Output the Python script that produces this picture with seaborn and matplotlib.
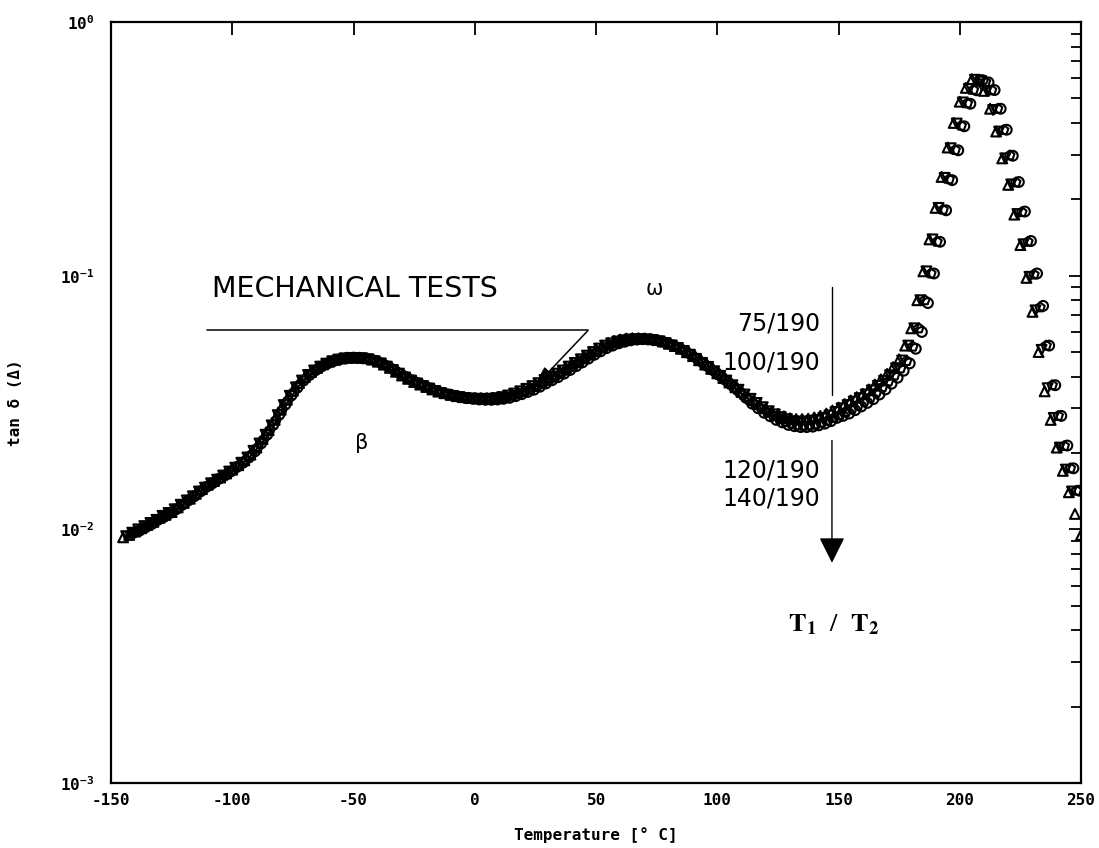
import numpy as np
import pandas as pd
import matplotlib
matplotlib.use("Agg")
import matplotlib.pyplot as plt
from matplotlib.ticker import FixedLocator, LogLocator, NullFormatter, FixedFormatter
import seaborn as sns

# Loss factor tan(delta) vs temperature for four T1/T2 processing conditions
temp_75 = np.arange(-145.0, 250.01, 2.5)
temp_100 = np.arange(-143.75, 247.0, 2.5)
temp_120 = np.arange(-141.875, 249.0, 2.5)
temp_140 = np.arange(-140.625, 250.0, 2.5)

tan_75 = [
    0.0093, 0.0095, 0.0098, 0.0101, 0.0104, 0.0107, 0.0111, 0.0114, 0.0117, 0.0122,
    0.0127, 0.0132, 0.0138, 0.0144, 0.0150, 0.0155, 0.0160, 0.0166, 0.0172, 0.0179,
    0.0187, 0.0197, 0.0210, 0.0227, 0.0246, 0.0270, 0.0296, 0.0324, 0.0352, 0.0377,
    0.0399, 0.0417, 0.0433, 0.0447, 0.0458, 0.0466, 0.0472, 0.0475, 0.0476, 0.0475,
    0.0473, 0.0467, 0.0458, 0.0446, 0.0433, 0.0418, 0.0404, 0.0392, 0.0381, 0.0372,
    0.0364, 0.0356, 0.0349, 0.0344, 0.0339, 0.0335, 0.0332, 0.0330, 0.0329, 0.0329,
    0.0329, 0.0330, 0.0332, 0.0336, 0.0342, 0.0349, 0.0356, 0.0365, 0.0374, 0.0386,
    0.0398, 0.0409, 0.0421, 0.0436, 0.0452, 0.0467, 0.0483, 0.0499, 0.0515, 0.0530,
    0.0543, 0.0553, 0.0560, 0.0565, 0.0567, 0.0567, 0.0566, 0.0563, 0.0558, 0.0550,
    0.0539, 0.0528, 0.0515, 0.0499, 0.0482, 0.0464, 0.0446, 0.0429, 0.0412, 0.0395,
    0.0379, 0.0363, 0.0348, 0.0335, 0.0323, 0.0311, 0.0300, 0.0292, 0.0285, 0.0279,
    0.0274, 0.0272, 0.0272, 0.0273, 0.0276, 0.0280, 0.0286, 0.0294, 0.0302, 0.0312,
    0.0322, 0.0332, 0.0342, 0.0356, 0.0372, 0.0390, 0.0410, 0.0436, 0.0468, 0.0530,
    0.062, 0.080, 0.104, 0.139, 0.185, 0.245, 0.32, 0.40, 0.485, 0.55,
    0.595, 0.590, 0.535, 0.455, 0.37, 0.29, 0.228, 0.174, 0.132, 0.098,
    0.072, 0.050, 0.035, 0.027, 0.021, 0.0170, 0.0140, 0.0115, 0.0095,
]
tan_100 = [
    0.0094, 0.0097, 0.0100, 0.0103, 0.0106, 0.0109, 0.0113, 0.0116, 0.0120, 0.0125,
    0.0130, 0.0135, 0.0141, 0.0146, 0.0152, 0.0157, 0.0163, 0.0169, 0.0175, 0.0183,
    0.0192, 0.0204, 0.0218, 0.0236, 0.0257, 0.0282, 0.0309, 0.0336, 0.0363, 0.0386,
    0.0406, 0.0423, 0.0438, 0.0450, 0.0460, 0.0467, 0.0472, 0.0474, 0.0474, 0.0472,
    0.0468, 0.0460, 0.0451, 0.0438, 0.0425, 0.0411, 0.0397, 0.0386, 0.0376, 0.0367,
    0.0359, 0.0351, 0.0344, 0.0339, 0.0335, 0.0332, 0.0329, 0.0328, 0.0327, 0.0327,
    0.0327, 0.0329, 0.0332, 0.0337, 0.0343, 0.0350, 0.0358, 0.0367, 0.0377, 0.0388,
    0.0399, 0.0411, 0.0423, 0.0438, 0.0453, 0.0468, 0.0484, 0.0500, 0.0516, 0.0530,
    0.0541, 0.0550, 0.0556, 0.0560, 0.0562, 0.0562, 0.0560, 0.0556, 0.0551, 0.0542,
    0.0531, 0.0519, 0.0505, 0.0488, 0.0470, 0.0453, 0.0437, 0.0420, 0.0403, 0.0386,
    0.0370, 0.0355, 0.0340, 0.0327, 0.0315, 0.0303, 0.0292, 0.0284, 0.0277, 0.0272,
    0.0267, 0.0266, 0.0266, 0.0268, 0.0270, 0.0275, 0.0281, 0.0290, 0.0300, 0.0309,
    0.0319, 0.0329, 0.0340, 0.0353, 0.0368, 0.0385, 0.0405, 0.0432, 0.0463, 0.0530,
    0.062, 0.080, 0.104, 0.139, 0.185, 0.243, 0.318, 0.398, 0.482, 0.545,
    0.592, 0.585, 0.535, 0.450, 0.37, 0.29, 0.229, 0.175, 0.133, 0.099,
    0.073, 0.051, 0.036, 0.0275, 0.021, 0.0172, 0.0141,
]
tan_120 = [
    0.0096, 0.0098, 0.0101, 0.0104, 0.0108, 0.0111, 0.0114, 0.0118, 0.0122, 0.0127,
    0.0133, 0.0138, 0.0144, 0.0149, 0.0155, 0.0160, 0.0166, 0.0172, 0.0179, 0.0188,
    0.0198, 0.0211, 0.0227, 0.0247, 0.0270, 0.0296, 0.0323, 0.0349, 0.0375, 0.0396,
    0.0415, 0.0431, 0.0445, 0.0456, 0.0464, 0.0470, 0.0473, 0.0474, 0.0474, 0.0470,
    0.0465, 0.0456, 0.0445, 0.0432, 0.0418, 0.0405, 0.0392, 0.0382, 0.0372, 0.0363,
    0.0355, 0.0348, 0.0342, 0.0338, 0.0334, 0.0331, 0.0328, 0.0326, 0.0325, 0.0325,
    0.0326, 0.0328, 0.0331, 0.0336, 0.0341, 0.0348, 0.0355, 0.0364, 0.0374, 0.0385,
    0.0396, 0.0409, 0.0422, 0.0437, 0.0452, 0.0468, 0.0484, 0.0500, 0.0516, 0.0529,
    0.0540, 0.0548, 0.0555, 0.0559, 0.0561, 0.0561, 0.0559, 0.0553, 0.0546, 0.0536,
    0.0525, 0.0511, 0.0496, 0.0478, 0.0460, 0.0442, 0.0424, 0.0406, 0.0389, 0.0372,
    0.0355, 0.0339, 0.0324, 0.0311, 0.0299, 0.0289, 0.0279, 0.0272, 0.0265, 0.0261,
    0.0257, 0.0256, 0.0257, 0.0259, 0.0263, 0.0268, 0.0275, 0.0282, 0.0290, 0.0299,
    0.0308, 0.0319, 0.0330, 0.0346, 0.0363, 0.0383, 0.0404, 0.0431, 0.0461, 0.0525,
    0.062, 0.080, 0.102, 0.136, 0.182, 0.240, 0.313, 0.390, 0.478, 0.540,
    0.590, 0.580, 0.538, 0.455, 0.375, 0.298, 0.233, 0.178, 0.136, 0.101,
    0.075, 0.053, 0.037, 0.028, 0.0213, 0.0174, 0.0142,
]
tan_140 = [
    0.0097, 0.0099, 0.0102, 0.0105, 0.0109, 0.0112, 0.0116, 0.0120, 0.0125, 0.0130,
    0.0135, 0.0141, 0.0147, 0.0152, 0.0158, 0.0163, 0.0169, 0.0176, 0.0183, 0.0192,
    0.0203, 0.0218, 0.0236, 0.0258, 0.0283, 0.0310, 0.0337, 0.0362, 0.0386, 0.0406,
    0.0424, 0.0439, 0.0451, 0.0461, 0.0468, 0.0472, 0.0474, 0.0474, 0.0473, 0.0468,
    0.0461, 0.0450, 0.0438, 0.0424, 0.0410, 0.0397, 0.0386, 0.0376, 0.0367, 0.0359,
    0.0351, 0.0345, 0.0340, 0.0336, 0.0332, 0.0329, 0.0327, 0.0325, 0.0324, 0.0324,
    0.0325, 0.0327, 0.0330, 0.0335, 0.0341, 0.0348, 0.0355, 0.0365, 0.0376, 0.0387,
    0.0398, 0.0411, 0.0425, 0.0440, 0.0455, 0.0471, 0.0488, 0.0503, 0.0518, 0.0530,
    0.0541, 0.0549, 0.0556, 0.0560, 0.0562, 0.0561, 0.0558, 0.0551, 0.0542, 0.0531,
    0.0519, 0.0504, 0.0487, 0.0469, 0.0451, 0.0433, 0.0416, 0.0398, 0.0381, 0.0364,
    0.0347, 0.0330, 0.0313, 0.0300, 0.0288, 0.0279, 0.0270, 0.0264, 0.0258, 0.0255,
    0.0253, 0.0253, 0.0254, 0.0257, 0.0261, 0.0267, 0.0275, 0.0280, 0.0286, 0.0295,
    0.0305, 0.0315, 0.0326, 0.0340, 0.0356, 0.0375, 0.0396, 0.0422, 0.0451, 0.0515,
    0.060, 0.078, 0.102, 0.136, 0.181, 0.238, 0.312, 0.388, 0.476, 0.538,
    0.590, 0.578, 0.539, 0.455, 0.376, 0.297, 0.234, 0.179, 0.137, 0.102,
    0.076, 0.053, 0.037, 0.028, 0.0214, 0.0174, 0.0142,
]

series_names = ["75/190", "100/190", "120/190", "140/190"]
series_markers = ["^", "v", "p", "o"]

x_ticks = [-150, -100, -50, 0, 50, 100, 150, 200, 250]
y_ticks = [1e-3, 1e-2, 1e-1, 1e0]
y_tick_labels = [r"$\mathregular{10^{-3}}$", r"$\mathregular{10^{-2}}$",
                 r"$\mathregular{10^{-1}}$", r"$\mathregular{10^{0}}$"]

frames = []
for name, t, v in zip(series_names,
                      [temp_75, temp_100, temp_120, temp_140],
                      [tan_75, tan_100, tan_120, tan_140]):
    frames.append(pd.DataFrame({"Temperature": t, "tan": v, "series": name}))
df = pd.concat(frames, ignore_index=True)

sns.set_theme(style="white")
plt.rcParams["font.family"] = ["DejaVu Sans"]
plt.rcParams["mathtext.default"] = "regular"

mono = dict(family="DejaVu Sans Mono", weight="bold")

fig = plt.figure(figsize=(10.99, 8.48), dpi=100)
ax = fig.add_axes([111 / 1099, 1 - 783 / 848, 970 / 1099, 761 / 848])

for name, mk in zip(series_names, series_markers):
    sub = df[df["series"] == name]
    sns.scatterplot(data=sub, x="Temperature", y="tan", marker=mk, s=50,
                    color="black", facecolor="none", edgecolor="black",
                    linewidth=1.5, ax=ax, legend=False, zorder=3)

ax.set_yscale("log")
ax.set_xlim(-150, 250)
ax.set_ylim(1e-3, 1e0)

ax.xaxis.set_major_locator(FixedLocator(x_ticks))
ax.set_xticklabels([str(v) for v in x_ticks])
ax.yaxis.set_major_locator(FixedLocator(y_ticks))
ax.yaxis.set_major_formatter(FixedFormatter(y_tick_labels))
ax.yaxis.set_minor_locator(LogLocator(base=10, subs=np.arange(2, 10)))
ax.yaxis.set_minor_formatter(NullFormatter())

ax.tick_params(which="both", direction="in", top=True, right=True,
               color="black", width=1.3)
ax.tick_params(axis="x", which="major", length=9, pad=7)
ax.tick_params(axis="y", which="major", length=9, pad=12)
ax.tick_params(axis="y", which="minor", length=7)
for lab in ax.get_xticklabels() + ax.get_yticklabels():
    lab.set_fontfamily("DejaVu Sans Mono")
    lab.set_fontweight("bold")
    lab.set_fontsize(11.5)
    lab.set_color("black")

for sp in ax.spines.values():
    sp.set_color("black")
    sp.set_linewidth(1.6)

ax.set_xlabel("Temperature [° C]", fontsize=11.5, color="black", labelpad=14, **mono)
ax.set_ylabel("tan δ (Δ)", fontsize=11.5, color="black", **mono)
ax.yaxis.set_label_coords(-0.091, 0.5)

# Annotations
ax.text(-108.4, 0.089, "MECHANICAL TESTS", fontsize=20.5, ha="left", va="center",
        color="black")
ax.plot([-110.4, 46.7], [0.0608, 0.0608], color="black", lw=1.1)
ax.annotate("", xy=(24.0, 0.0359), xytext=(46.7, 0.0608),
            arrowprops=dict(arrowstyle="-|>,head_length=0.8,head_width=0.22",
                            mutation_scale=18, color="black", lw=1.1,
                            shrinkA=0, shrinkB=0))
ax.text(74, 0.089, "ω", fontsize=15, ha="center", va="center", color="black")
ax.text(-46.5, 0.0218, "β", fontsize=15, ha="center", va="center", color="black")

ax.plot([147.3, 147.3], [0.0899, 0.0337], color="black", lw=1.0)
ax.annotate("", xy=(147.3, 0.00738), xytext=(147.3, 0.0224),
            arrowprops=dict(arrowstyle="-|>,head_length=0.4,head_width=0.2",
                            mutation_scale=40, color="black", lw=1.0,
                            shrinkA=0, shrinkB=0))
for lbl, yv in zip(series_names, [0.0648, 0.0455, 0.0170, 0.0132]):
    ax.text(142.5, yv, lbl, fontsize=17, ha="right", va="center", color="black")

ax.text(148, 0.0042, r"$\mathbf{T_1}$  /  $\mathbf{T_2}$", fontsize=19, ha="center",
        va="center", color="black", family="Liberation Serif", weight="bold",
        math_fontfamily="stix")

fig.savefig("out.png", dpi=100, facecolor="white")
